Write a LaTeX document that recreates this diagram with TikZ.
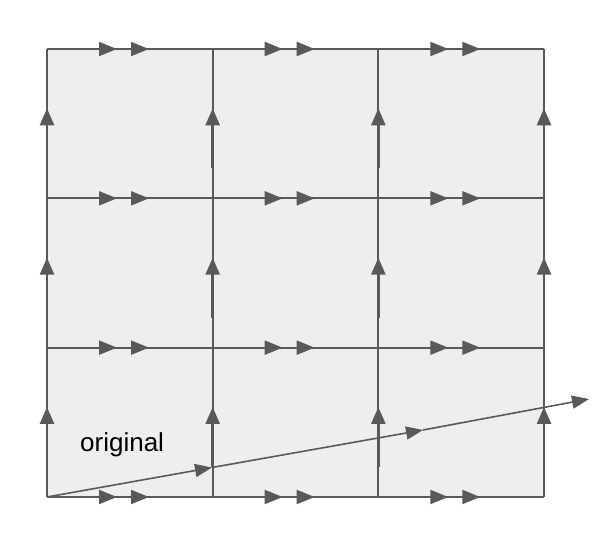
\documentclass[tikz,border=0pt]{standalone}
\usepackage{fontspec}
\setmainfont{Liberation Sans}
\usetikzlibrary{arrows.meta}
\definecolor{edgegray}{HTML}{595959}
\definecolor{cellgray}{HTML}{EEEEEE}
\tikzset{
  gridline/.style={draw=edgegray, line width=2pt},
  flowarrow/.style={draw=edgegray, line width=2pt, -{Triangle[length=18pt,width=14pt]}},
  uparrow/.style={draw=edgegray, line width=2.6pt, -{Triangle[length=17pt,width=14pt]}},
  vecarrow/.style={draw=edgegray, line width=1.6pt, -{Triangle[length=17pt,width=13pt]}}
}
\begin{document}
\begin{tikzpicture}[x=1pt,y=-1pt]
\useasboundingbox (0,0) rectangle (612,554);
\fill[cellgray] (47,49) rectangle (544,497);

% grid
\foreach \c in {0,1,2,3}
  \draw[gridline] (47+\c*165.67,49) -- (47+\c*165.67,497);
\foreach \r in {0,1,2,3}
  \draw[gridline] (47,49+\r*149.33) -- (544,49+\r*149.33);

% horizontal edges, two heads each
\foreach \r in {0,1,2,3}
  \foreach \c in {0,1,2} {
    \draw[flowarrow] (47+\c*165.67,49+\r*149.33) -- (117+\c*165.67,49+\r*149.33);
    \draw[flowarrow] (117+\c*165.67,49+\r*149.33) -- (149+\c*165.67,49+\r*149.33);
  }

% vertical edges
\foreach \r in {1,2,3}
  \foreach \c in {0,1,2,3}
    \draw[uparrow] (47+\c*165.67,19+\r*149.33) -- (47+\c*165.67,-41+\r*149.33);

% the vector
\coordinate (o) at (47,497);
\coordinate (p) at (212,467.5);
\coordinate (q) at (423,430);
\coordinate (e) at (589,399);
\draw[vecarrow] (o) -- (p);
\draw[vecarrow] (p) -- (q);
\draw[vecarrow] (q) -- (e);

\node[anchor=base west, inner sep=0pt, font=\fontsize{26}{30}\selectfont] (orig) at (80,451) {original};
\end{tikzpicture}
\end{document}
